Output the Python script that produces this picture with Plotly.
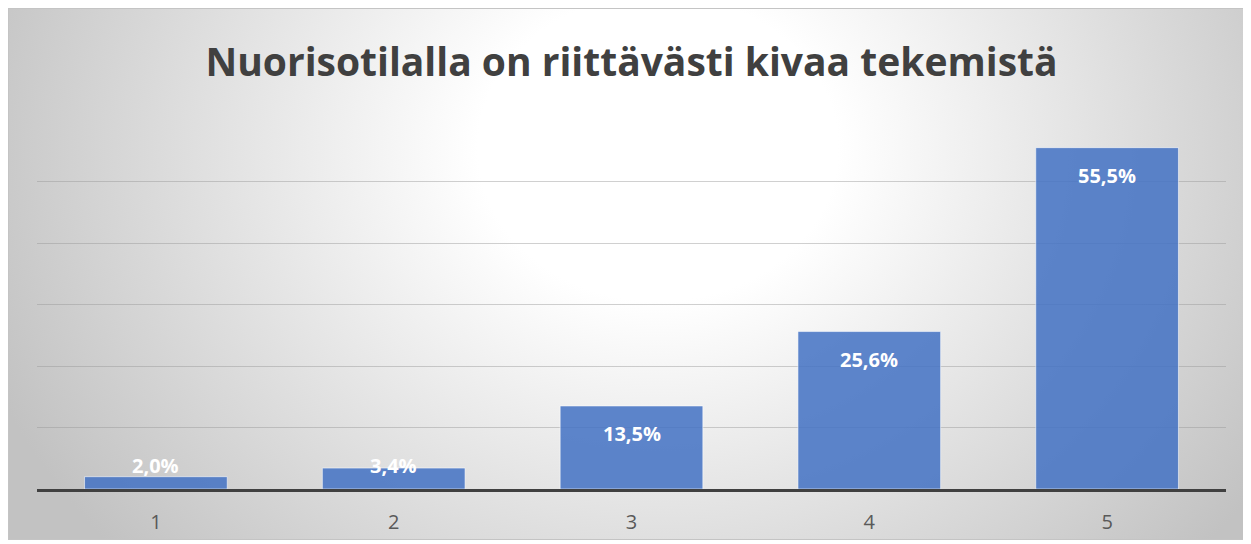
import base64
import plotly.graph_objects as go

categories = ["1", "2", "3", "4", "5"]
values = [2.0, 3.4, 13.5, 25.6, 55.5]
labels = ["2,0%", "3,4%", "13,5%", "25,6%", "55,5%"]
title_text = "Nuorisotilalla on riittävästi kivaa tekemistä"

W, H = 1243, 532
L, R, T, B = 29, 25, 112, 51
pw, ph = W - L - R, H - T - B

svg = f'''<svg xmlns="http://www.w3.org/2000/svg" width="{W}" height="{H}" viewBox="0 0 {W} {H}" preserveAspectRatio="none">
<defs><radialGradient id="g" gradientUnits="userSpaceOnUse" cx="650" cy="140" r="720"
 gradientTransform="translate(650 140) scale(1 0.85) translate(-650 -140)">
<stop offset="0" stop-color="#ffffff"/><stop offset="0.25" stop-color="#ffffff"/>
<stop offset="1" stop-color="#c2c2c2"/></radialGradient></defs>
<rect x="0" y="0" width="{W}" height="{H}" fill="url(#g)"/>
<rect x="0.5" y="0.5" width="{W + 5}" height="{H - 1}" fill="none" stroke="#c4c4c4" stroke-width="1"/>
</svg>'''
src = "data:image/svg+xml;base64," + base64.b64encode(svg.encode()).decode()

fig = go.Figure()
fig.add_trace(go.Bar(
    x=categories, y=values,
    marker=dict(color="rgba(68,114,196,0.86)", line=dict(color="rgba(255,255,255,0.55)", width=1)),
    hoverinfo="skip",
))

floor = 8.3
for i, (v, t) in enumerate(zip(values, labels)):
    fig.add_annotation(x=i, y=max(v, floor), text=f"<b>{t}</b>", showarrow=False,
                       yanchor="middle", yshift=-28,
                       font=dict(family="Open Sans", size=20, color="white"))

fig.add_layout_image(dict(
    source=src, xref="paper", yref="paper",
    x=-L / pw, y=1 + T / ph,
    sizex=W / pw, sizey=H / ph,
    xanchor="left", yanchor="top", sizing="stretch", layer="below",
))

fig.update_layout(
    width=W, height=H,
    margin=dict(l=L, r=R, t=T, b=B, pad=0, autoexpand=False),
    paper_bgcolor="white", plot_bgcolor="rgba(0,0,0,0)",
    bargap=0.4, showlegend=False,
    title=dict(text=f"<b>{title_text}</b>", x=0.5, xref="paper", xanchor="center",
               y=1 - 54 / H, yanchor="middle",
               font=dict(family="Open Sans", size=39, color="#404040")),
    xaxis=dict(type="category", range=[-0.5, len(categories) - 0.5], automargin=False,
               showline=True, linecolor="#404040", linewidth=3, ticks="",
               ticklabelstandoff=13,
               tickfont=dict(family="Open Sans", size=20, color="#595959"),
               showgrid=False),
    yaxis=dict(range=[0, 60], dtick=10, showticklabels=False, showgrid=True, automargin=False,
               gridcolor="rgba(150,150,150,0.45)", gridwidth=1, zeroline=False,
               showline=False),
)

fig.write_html("out.html")
